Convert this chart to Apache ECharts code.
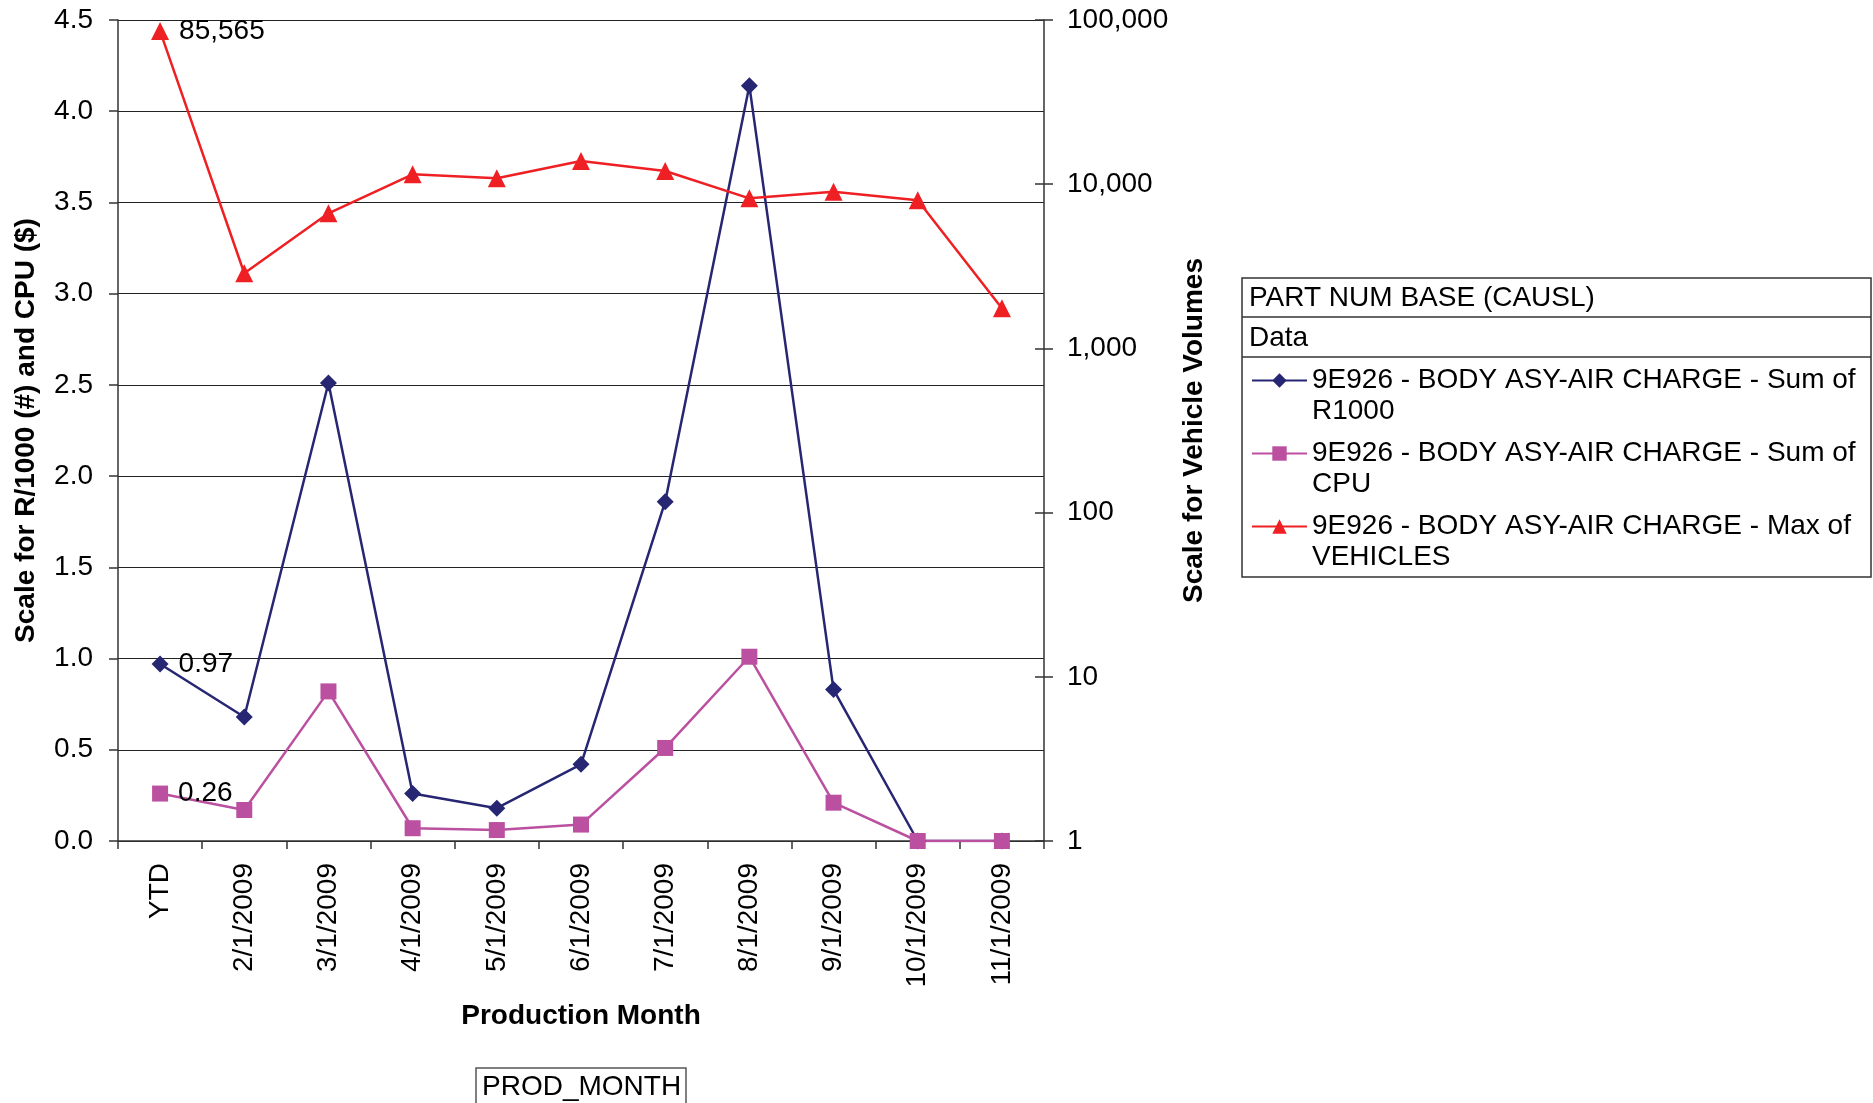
<!DOCTYPE html>
<html><head><meta charset="utf-8">
<script src="https://cdn.jsdelivr.net/npm/echarts@6/dist/echarts.min.js"></script>
<style>html,body{margin:0;padding:0;background:#fff}#c{width:1873px;height:1103px}</style>
</head><body><div id="c"></div>
<script>
const categories = ['YTD','2/1/2009','3/1/2009','4/1/2009','5/1/2009','6/1/2009','7/1/2009','8/1/2009','9/1/2009','10/1/2009','11/1/2009'];
const r1000 = [0.97,0.68,2.51,0.26,0.18,0.42,1.86,4.14,0.83,0,0];
const cpu = [0.26,0.17,0.82,0.07,0.06,0.09,0.51,1.01,0.21,0,0];
const vehicles = [85565,2870,6650,11490,10860,13840,12030,8200,9010,7980,1755];
const leftMin = 0, leftMax = 4.5, leftStep = 0.5;
const rightMin = 1, rightMax = 100000;
const seriesNames = [
  '9E926 - BODY ASY-AIR CHARGE - Sum of R1000',
  '9E926 - BODY ASY-AIR CHARGE - Sum of CPU',
  '9E926 - BODY ASY-AIR CHARGE - Max of VEHICLES'
];
const legendHeader = 'PART NUM BASE (CAUSL)';
const legendSub = 'Data';
const xName = 'Production Month';
const leftName = 'Scale for R/1000 (#) and CPU ($)';
const rightName = 'Scale for Vehicle Volumes';
const fieldButton = 'PROD_MONTH';

const FONT = "'Liberation Sans', Arial, Helvetica, sans-serif";
const fmtComma = v => Math.round(v).toString().replace(/\B(?=(\d{3})+(?!\d))/g, ',');
const firstLabel = (arr) => arr.map((v, i) => i === 0 ? { value: v, label: { show: true } } : v);

const chart = echarts.init(document.getElementById('c'), null, { renderer: 'canvas' });
const axisLineStyle = { color: '#333', width: 1.5 };
chart.setOption({
  backgroundColor: '#fff',
  animation: false,
  textStyle: { fontFamily: FONT },
  grid: { left: 118, right: 829, top: 20, bottom: 262, containLabel: false },
  xAxis: {
    type: 'category', data: categories, boundaryGap: true,
    axisLine: { lineStyle: axisLineStyle },
    axisTick: { show: true, interval: 0, length: 8, lineStyle: { color: '#333', width: 1.5 } },
    axisLabel: { interval: 0, rotate: 90, fontSize: 28, color: '#000', margin: 22, fontFamily: FONT },
    name: xName, nameLocation: 'middle', nameGap: 161,
    nameTextStyle: { fontSize: 28, fontWeight: 'bold', color: '#000', fontFamily: FONT }
  },
  yAxis: [
    {
      type: 'value', min: leftMin, max: leftMax, interval: leftStep, position: 'left',
      axisLine: { show: true, lineStyle: axisLineStyle },
      axisTick: { show: true, length: 9, lineStyle: { color: '#333', width: 1.5 } },
      axisLabel: { fontSize: 28, color: '#000', margin: 25, formatter: v => v.toFixed(1), fontFamily: FONT },
      splitLine: { show: true, lineStyle: { color: '#222', width: 1 } },
      name: leftName, nameLocation: 'middle', nameRotate: 90, nameGap: 78,
      nameTextStyle: { fontSize: 28, fontWeight: 'bold', color: '#000', fontFamily: FONT }
    },
    {
      type: 'log', logBase: 10, min: rightMin, max: rightMax, position: 'right',
      axisLine: { show: true, lineStyle: axisLineStyle },
      axisTick: { show: true, length: 9, lineStyle: { color: '#333', width: 1.5 } },
      minorTick: { show: false },
      axisLabel: { fontSize: 28, color: '#000', margin: 23, formatter: v => fmtComma(v), fontFamily: FONT },
      splitLine: { show: false },
      name: rightName, nameLocation: 'middle', nameRotate: 90, nameGap: 136,
      nameTextStyle: { fontSize: 28, fontWeight: 'bold', color: '#000', fontFamily: FONT }
    },
    {
      type: 'log', logBase: 10, min: rightMin, max: rightMax, position: 'right',
      axisLine: { show: false },
      axisTick: { show: true, inside: true, length: 9, lineStyle: { color: '#333', width: 1.5 } },
      axisLabel: { show: false },
      splitLine: { show: false }
    }
  ],
  legend: {
    orient: 'vertical', left: 1251, top: 334, padding: 0, itemGap: -20,
    itemWidth: 55, itemHeight: 18,
    data: seriesNames,
    formatter: name => '\n' + name.replace(/ (\S+)$/, '\n$1'),
    textStyle: { fontSize: 28, color: '#000', lineHeight: 31, fontFamily: FONT }
  },
  series: [
    {
      name: seriesNames[0], type: 'line', yAxisIndex: 0, data: firstLabel(r1000),
      symbol: 'diamond', symbolSize: 17, showAllSymbol: true,
      lineStyle: { color: '#262673', width: 2.5 }, itemStyle: { color: '#262673' },
      label: { show: false, position: 'right', distance: 10, fontSize: 28, color: '#000', fontFamily: FONT }
    },
    {
      name: seriesNames[1], type: 'line', yAxisIndex: 0, data: firstLabel(cpu),
      symbol: 'rect', symbolSize: 16, showAllSymbol: true,
      lineStyle: { color: '#bb50a0', width: 2.5 }, itemStyle: { color: '#bb50a0' },
      label: { show: false, position: 'right', distance: 10, fontSize: 28, color: '#000', fontFamily: FONT }
    },
    {
      name: seriesNames[2], type: 'line', yAxisIndex: 1, data: firstLabel(vehicles),
      symbol: 'triangle', symbolSize: 18, showAllSymbol: true,
      lineStyle: { color: '#ee2024', width: 2.5 }, itemStyle: { color: '#ee2024' },
      label: { show: false, position: 'right', distance: 10, fontSize: 28, color: '#000', fontFamily: FONT,
               formatter: p => fmtComma(p.value) }
    }
  ],
  graphic: [
    { type: 'rect', shape: { x: 1242, y: 278, width: 629, height: 299 }, style: { fill: 'none', stroke: '#333', lineWidth: 1.5 } },
    { type: 'line', shape: { x1: 1242, y1: 317, x2: 1871, y2: 317 }, style: { stroke: '#333', lineWidth: 1.5 } },
    { type: 'line', shape: { x1: 1242, y1: 357, x2: 1871, y2: 357 }, style: { stroke: '#333', lineWidth: 1.5 } },
    { type: 'text', x: 1249, y: 298, style: { text: legendHeader, fontSize: 28, fontFamily: FONT, fill: '#000', verticalAlign: 'middle' } },
    { type: 'text', x: 1249, y: 338, style: { text: legendSub, fontSize: 28, fontFamily: FONT, fill: '#000', verticalAlign: 'middle' } },
    { type: 'rect', shape: { x: 476, y: 1068, width: 210, height: 45 }, style: { fill: 'none', stroke: '#555', lineWidth: 1.5 } },
    { type: 'text', x: 482, y: 1087, style: { text: fieldButton, fontSize: 28, fontFamily: FONT, fill: '#000', verticalAlign: 'middle' } }
  ]
});
</script></body></html>
